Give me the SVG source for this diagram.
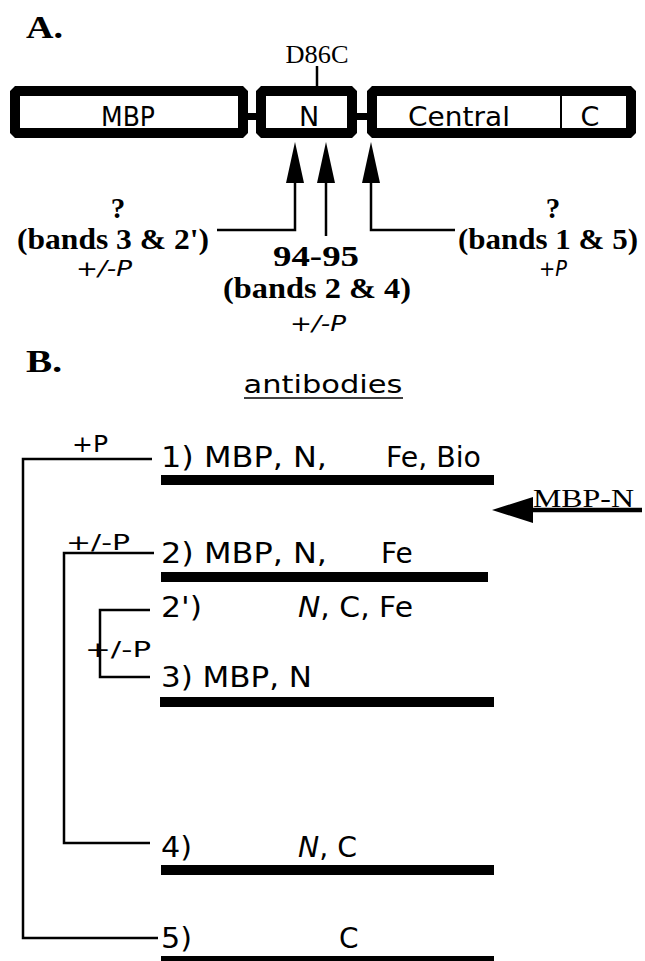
<svg xmlns="http://www.w3.org/2000/svg" width="645" height="961" viewBox="0 0 645 961">
<defs>
<style>
.bs{font-family:"Liberation Serif",serif;font-weight:bold;fill:#000}
.sf{font-family:"Liberation Serif",serif;fill:#000}
.ss{font-family:"DejaVu Sans",sans-serif;fill:#000}
.it{font-family:"DejaVu Sans",sans-serif;font-style:italic;fill:#000}
.box{fill:#fff;stroke:#000;stroke-width:10;stroke-linejoin:bevel}
.ln{fill:none;stroke:#000;stroke-width:2.5}
.bar{fill:#000}
</style>
</defs>
<rect width="645" height="961" fill="#fff"/>
<text class="bs" x="26" y="38" font-size="32" textLength="37" lengthAdjust="spacingAndGlyphs">A.</text>
<g id="d86c">
<text class="sf" x="317" y="63" font-size="26" text-anchor="middle" textLength="63" lengthAdjust="spacingAndGlyphs">D86C</text>
<line class="ln" x1="317" y1="66" x2="317" y2="87"/>
</g>
<g id="links">
<rect x="246" y="113" width="12" height="7" class="bar"/>
<rect x="355" y="113" width="14" height="7" class="bar"/>
</g>
<g id="mbp">
<rect class="box" x="15" y="91" width="228" height="42"/>
<text class="ss" x="128" y="126" font-size="27" text-anchor="middle" textLength="54" lengthAdjust="spacingAndGlyphs">MBP</text>
</g>
<g id="n">
<rect class="box" x="261" y="91" width="91" height="42"/>
<text class="ss" x="309" y="126" font-size="27" text-anchor="middle">N</text>
</g>
<g id="central">
<rect class="box" x="372" y="91" width="259" height="42"/>
<line x1="561" y1="94" x2="561" y2="130" stroke="#000" stroke-width="2"/>
<text class="ss" x="459" y="126" font-size="27" text-anchor="middle" textLength="102" lengthAdjust="spacingAndGlyphs">Central</text>
<text class="ss" x="590" y="126" font-size="27" text-anchor="middle">C</text>
</g>
<g id="arrows">
<path class="ln" d="M217,230 H295 V175"/>
<polygon points="295,142 286,183 304,183"/>
<path class="ln" d="M326,236 V175"/>
<polygon points="326,142 317,183 335,183"/>
<path class="ln" d="M455,230 H371 V175"/>
<polygon points="371,142 362,183 380,183"/>
</g>
<g id="site-left">
<text class="bs" x="118" y="218" font-size="29" text-anchor="middle">?</text>
<text class="bs" x="113" y="249" font-size="30" text-anchor="middle" textLength="192" lengthAdjust="spacingAndGlyphs">(bands 3 &amp; 2')</text>
<text class="it" x="104" y="276" font-size="21" text-anchor="middle" textLength="56" lengthAdjust="spacingAndGlyphs">+/-P</text>
</g>
<g id="site-mid">
<text class="bs" x="316" y="266" font-size="30" text-anchor="middle" textLength="86" lengthAdjust="spacingAndGlyphs">94-95</text>
<text class="bs" x="317" y="298" font-size="30" text-anchor="middle" textLength="188" lengthAdjust="spacingAndGlyphs">(bands 2 &amp; 4)</text>
<text class="it" x="318" y="331" font-size="21" text-anchor="middle" textLength="56" lengthAdjust="spacingAndGlyphs">+/-P</text>
</g>
<g id="site-right">
<text class="bs" x="553" y="218" font-size="29" text-anchor="middle">?</text>
<text class="bs" x="548" y="249" font-size="30" text-anchor="middle" textLength="180" lengthAdjust="spacingAndGlyphs">(bands 1 &amp; 5)</text>
<text class="it" x="553" y="276" font-size="21" text-anchor="middle" textLength="28" lengthAdjust="spacingAndGlyphs">+P</text>
</g>
<text class="bs" x="26" y="372" font-size="32" textLength="36" lengthAdjust="spacingAndGlyphs">B.</text>
<g id="antibodies">
<text class="ss" x="323" y="393" font-size="25" text-anchor="middle" textLength="159" lengthAdjust="spacingAndGlyphs">antibodies</text>
<line x1="244" y1="398" x2="403" y2="398" stroke="#000" stroke-width="1.6"/>
</g>
<g id="tree">
<path class="ln" d="M152,459 H23 V938 H158"/>
<path class="ln" d="M154,553 H64 V843 H150"/>
<path class="ln" d="M150,610 H100 V677 H150"/>
<text class="ss" x="90" y="452" font-size="23" text-anchor="middle" textLength="36" lengthAdjust="spacingAndGlyphs">+P</text>
<text class="ss" x="98" y="550" font-size="22" text-anchor="middle" textLength="64" lengthAdjust="spacingAndGlyphs">+/-P</text>
<text class="ss" x="118" y="657" font-size="22" text-anchor="middle" textLength="66" lengthAdjust="spacingAndGlyphs">+/-P</text>
</g>
<g id="band1">
<text class="ss" x="161" y="467" font-size="28" textLength="166" lengthAdjust="spacingAndGlyphs">1) MBP, N,</text>
<text class="ss" x="386" y="467" font-size="28" textLength="95" lengthAdjust="spacingAndGlyphs">Fe, Bio</text>
<rect class="bar" x="161" y="475" width="333" height="10"/>
</g>
<g id="mbpn">
<text class="sf" x="533" y="507" font-size="26" textLength="101" lengthAdjust="spacingAndGlyphs">MBP-N</text>
<line x1="525" y1="510" x2="642" y2="510" stroke="#000" stroke-width="4.5"/>
<polygon points="492,510 533,497 533,523"/>
</g>
<g id="band2">
<text class="ss" x="161" y="563" font-size="28" textLength="166" lengthAdjust="spacingAndGlyphs">2) MBP, N,</text>
<text class="ss" x="381" y="563" font-size="28">Fe</text>
<rect class="bar" x="161" y="572" width="327" height="10"/>
</g>
<g id="band2p">
<text class="ss" x="161" y="617" font-size="28" textLength="41" lengthAdjust="spacingAndGlyphs">2')</text>
<text class="ss" x="298" y="617" font-size="28" textLength="115" lengthAdjust="spacingAndGlyphs"><tspan font-style="italic">N</tspan>, C, Fe</text>
</g>
<g id="band3">
<text class="ss" x="161" y="687" font-size="28" textLength="151" lengthAdjust="spacingAndGlyphs">3) MBP, N</text>
<rect class="bar" x="160" y="697" width="334" height="10"/>
</g>
<g id="band4">
<text class="ss" x="161" y="857" font-size="28" textLength="31" lengthAdjust="spacingAndGlyphs">4)</text>
<text class="ss" x="298" y="857" font-size="28" textLength="59" lengthAdjust="spacingAndGlyphs"><tspan font-style="italic">N</tspan>, C</text>
<rect class="bar" x="161" y="865" width="333" height="10"/>
</g>
<g id="band5">
<text class="ss" x="161" y="948" font-size="28" textLength="31" lengthAdjust="spacingAndGlyphs">5)</text>
<text class="ss" x="339" y="948" font-size="28">C</text>
<rect class="bar" x="161" y="956" width="333" height="5"/>
</g>
</svg>
